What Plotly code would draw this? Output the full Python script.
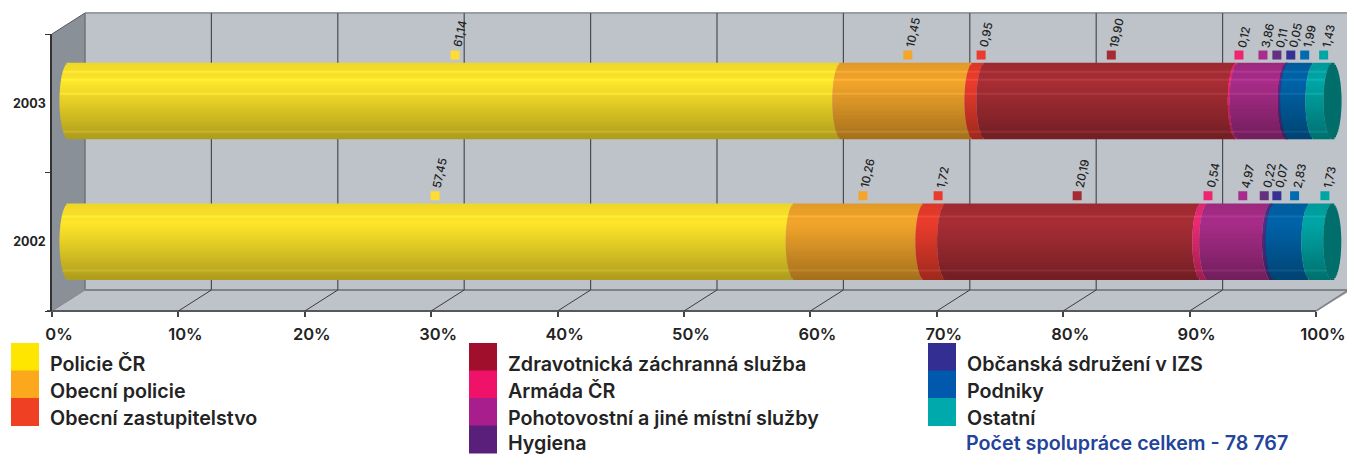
import math
import plotly.graph_objects as go

YEARS = ["2002", "2003"]
SERIES = ["Policie ČR", "Obecní policie", "Obecní zastupitelstvo",
          "Zdravotnická záchranná služba", "Armáda ČR", "Pohotovostní a jiné místní služby",
          "Hygiena", "Občanská sdružení v IZS", "Podniky", "Ostatní"]
VALUES_2002 = [57.45, 10.26, 1.72, 20.19, 0.54, 4.97, 0.22, 0.07, 2.83, 1.73]
VALUES_2003 = [61.14, 10.45, 0.95, 19.90, 0.12, 3.86, 0.11, 0.05, 1.99, 1.43]
LABELS_2002 = ["57,45", "10,26", "1,72", "20,19", "0,54", "4,97", "0,22", "0,07", "2,83", "1,73"]
LABELS_2003 = ["61,14", "10,45", "0,95", "19,90", "0,12", "3,86", "0,11", "0,05", "1,99", "1,43"]
# label positions along the bar, spread apart where the segments are too thin
LABEL_AT_2002 = [29.0, 62.85, 68.8, 79.8, 90.15, 92.9, 94.6, 95.6, 97.0, 99.4]
LABEL_AT_2003 = [30.58, 66.4, 72.2, 82.5, 92.6, 94.5, 95.6, 96.7, 97.8, 99.3]
BAR_COLORS = ["#FFE62A", "#F2A52A", "#EA3C2C", "#A82D35", "#EC2A72", "#A82C88",
              "#5F2C80", "#3B3390", "#0063A8", "#00A5A5"]
LEGEND_COLORS = ["#FFE600", "#FBA81C", "#F04023", "#A00F2B", "#EE1268", "#A81E8C",
                 "#5A1F7A", "#332E91", "#0059AC", "#00A9AC"]
MARK_COLORS = ["#FFDD33", "#F5A62A", "#EA3B2E", "#A62C33", "#EE2670", "#A92C8C",
               "#65307F", "#373291", "#006CB0", "#00A6A6"]
TOTAL_TEXT = "Počet spolupráce celkem - 78 767"
TICKS = list(range(0, 101, 10))

W, H = 1347, 455
L, T, B = 52, 34, 311
PX = 12.64                     # pixels per percent
CAT_PX = (B - T) / 2
DX, DY = 33, 21                # depth of the box
BAR_DX = 16.5 / PX             # bars sit half-way into the box
NSTRIP = 38
STRIP = 76 / NSTRIP / CAT_PX
CAP = 9 / PX
BAR_Y = {0: 0.0, 1: 0.016}
STREAK_STRIPS = {0: [6, 33], 1: [4, 8, 15, 34]}   # faint light lines along the tubes
FONT = "Inter, Lato, sans-serif"
INK = "#232323"


def fx(px):
    return (px - L) / (W - L)


def fy(py):
    return (B - py) / (B - T)


def shade(t):
    pts = [(0, .93), (.25, 1.0), (.5, .9), (1, .68)]
    for (a, fa), (b, fb) in zip(pts, pts[1:]):
        if t <= b:
            return fa + (fb - fa) * (t - a) / (b - a)
    return .68


def tint(col, k, lift=0):
    r, g, b = (int(col[i:i + 2], 16) for i in (1, 3, 5))
    r, g, b = (min(255, v * k + lift) for v in (r, g, b))
    return f"rgb({r:.0f},{g:.0f},{b:.0f})"


fig = go.Figure()
ts = [(i + .5) / NSTRIP for i in range(NSTRIP)]
curve = [CAP * math.sqrt(1 - (2 * t - 1) ** 2) for t in ts]

for s, name in enumerate(SERIES):
    ys, widths, bases, cols = [], [], [], []
    for c, vals in enumerate((VALUES_2002, VALUES_2003)):
        start = sum(vals[:s])
        for i, (t, off) in enumerate(zip(ts, curve)):
            ys.append(c + BAR_Y[c] + (.5 - t) * NSTRIP * STRIP)
            widths.append(vals[s])
            bases.append(start + BAR_DX - off)
            lift = 14 if i in STREAK_STRIPS[c] else 0
            cols.append(tint(BAR_COLORS[s], shade(t), lift))
    fig.add_trace(go.Bar(name=name, orientation="h", y=ys, x=widths, base=bases, width=STRIP * 1.25,
                         marker=dict(color=cols, line=dict(width=0)),
                         showlegend=False, hoverinfo="skip"))

# end cap of the cylinders
ys, widths, bases, cols = [], [], [], []
for c, vals in enumerate((VALUES_2002, VALUES_2003)):
    for t, off in zip(ts, curve):
        ys.append(c + BAR_Y[c] + (.5 - t) * NSTRIP * STRIP)
        widths.append(2 * off)
        bases.append(sum(vals) + BAR_DX - off)
        cols.append("#006E6A")
fig.add_trace(go.Bar(orientation="h", y=ys, x=widths, base=bases, width=STRIP * 1.25,
                     marker=dict(color=cols, line=dict(width=0)),
                     showlegend=False, hoverinfo="skip"))

# small value markers and labels
annots = []
for c, (at, labs) in enumerate(((LABEL_AT_2002, LABELS_2002), (LABEL_AT_2003, LABELS_2003))):
    my = c + BAR_Y[c] + 46 / CAT_PX
    fig.add_trace(go.Scatter(x=[a + BAR_DX for a in at], y=[my] * len(at), mode="markers",
                             marker=dict(symbol="square", size=9, color=MARK_COLORS, line=dict(width=0)),
                             showlegend=False, hoverinfo="skip"))
    for a, lab in zip(at, labs):
        annots.append(dict(x=a + BAR_DX, y=my, xref="x", yref="y", text=lab, showarrow=False,
                           textangle=-78, xanchor="center", yanchor="bottom", xshift=5, yshift=4,
                           font=dict(family=FONT, size=11.5, color=INK, weight=500)))

# box walls, grid
shapes = []


def poly(points, fill):
    d = "M" + " L".join(f"{fx(x):.5f},{fy(y):.5f}" for x, y in points) + " Z"
    shapes.append(dict(type="path", path=d, xref="paper", yref="paper", fillcolor=fill,
                       line=dict(width=0), layer="below"))


def seg(x0, y0, x1, y1, col, w):
    shapes.append(dict(type="line", x0=fx(x0), y0=fy(y0), x1=fx(x1), y1=fy(y1), xref="paper",
                       yref="paper", line=dict(color=col, width=w), layer="below"))


poly([(L, T), (L + DX, T - DY), (L + DX, B - DY), (L, B)], "#899098")
poly([(L + DX, T - DY), (W + 5, T - DY), (W + 5, B - DY), (L + DX, B - DY)], "#BEC3CA")
poly([(L, B), (L + DX, B - DY), (W + 5, B - DY), (L + 100 * PX, B)], "#BEC3CA")
seg(L + DX, T - DY, W, T - DY, "#9A9EA4", 2)
seg(L, T, L + DX, T - DY, "#55585C", 1)
seg(L + DX, T - DY, L + DX, B - DY, "#6F7479", 1.5)
seg(L + DX, B - DY, W, B - DY, "#7E838A", 2)
seg(L, B, L + DX, B - DY, "#7E838A", 1)
seg(47, B, L + 100 * PX, B, "#55585C", 2)
seg(L + 100 * PX, B, W, B - DY + 1, "#7E838A", 1.5)
for v in TICKS:
    x = L + v * PX
    if v:
        seg(x + DX, T - DY, x + DX, B - DY, "#4A4D50", 1.2)
    if 0 < v < 100:
        seg(x, B, x + DX, B - DY, "#3A3C3E", 1)

# legend
ROWS = [343, 370.5, 398, 425.5]
TEXT_Y = [364, 391, 418, 443]
COLS = [(11, 0, 3), (469, 3, 7), (928, 7, 10)]
for x0, a, b in COLS:
    for row, s in enumerate(range(a, b)):
        shapes.append(dict(type="rect", x0=fx(x0), x1=fx(x0 + 28), y0=fy(ROWS[row]),
                           y1=fy(ROWS[row] + 28), xref="paper", yref="paper",
                           fillcolor=LEGEND_COLORS[s], line=dict(width=0)))
        annots.append(dict(x=fx(x0 + 38), y=fy(TEXT_Y[row]), xref="paper", yref="paper",
                           text=SERIES[s], showarrow=False, xanchor="left", yanchor="middle",
                           borderpad=0,
                           font=dict(family=FONT, size=19.7, color=INK, weight=600)))
annots.append(dict(x=fx(965), y=fy(TEXT_Y[3]), xref="paper", yref="paper", text=TOTAL_TEXT,
                   showarrow=False, xanchor="left", yanchor="middle", borderpad=0,
                   font=dict(family=FONT, size=19.7, color="#24439B", weight=600)))

fig.update_layout(
    width=W, height=H, autosize=False, barmode="overlay", showlegend=False,
    margin=dict(l=L, r=0, t=T, b=H - B, pad=0),
    paper_bgcolor="white", plot_bgcolor="rgba(0,0,0,0)",
    shapes=shapes, annotations=annots,
    xaxis=dict(range=[0, (W - L) / PX], tickvals=TICKS, ticktext=[f"{t}%" for t in TICKS],
               showgrid=False, zeroline=False, showline=False, ticks="outside", ticklen=5,
               tickwidth=1.5, tickcolor="#444", ticklabelshift=7, ticklabelstandoff=3,
               tickfont=dict(family=FONT, size=16.5, color=INK, weight=600)),
    yaxis=dict(range=[-.5, 1.5], tickvals=[0, 1], ticktext=YEARS, showgrid=False, zeroline=False,
               showline=True, linecolor="#333", linewidth=1.5, ticks="", ticklabelstandoff=2,
               minor=dict(tickvals=[-.5, .5, 1.5], ticks="outside", ticklen=5, tickcolor="#333",
                          tickwidth=1.2, showgrid=False),
               tickfont=dict(family=FONT, size=12.5, color=INK, weight=700)),
)
fig.write_html("out.html", config=dict(displayModeBar=False),
               post_script="document.body.style.margin='0';document.documentElement.style.overflow='hidden';")
